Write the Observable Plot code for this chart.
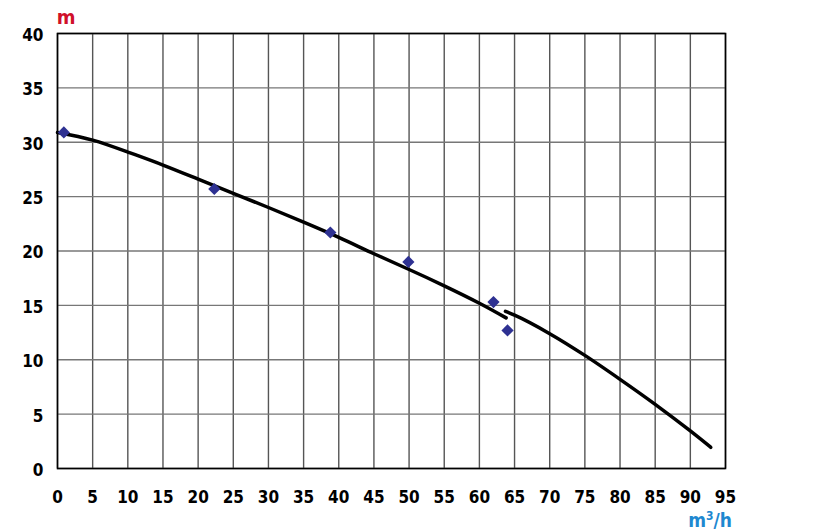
<!DOCTYPE html>
<html><head><meta charset="utf-8">
<script src="https://cdn.jsdelivr.net/npm/d3@7"></script>
<script src="https://cdn.jsdelivr.net/npm/@observablehq/plot@0.6"></script>
<style>body{margin:0;background:#fff}</style>
</head><body><div id="chart"></div>
<script>
const xTicks = [0,5,10,15,20,25,30,35,40,45,50,55,60,65,70,75,80,85,90,95];
const yTicks = [0,5,10,15,20,25,30,35,40];
// curve segment 1
const curve1X = [0,5,10,15,20,25,30,35,40,45,50,55,60,63.8];
const curve1Y = [30.9,30.2,29.1,27.9,26.6,25.3,24.0,22.65,21.25,19.75,18.3,16.8,15.2,13.85];
// curve segment 2
const curve2X = [63.7,65,70,75,80,85,90,92.9];
const curve2Y = [14.45,14.1,12.4,10.4,8.2,5.9,3.45,1.95];
// measured points
const ptsX = [0.9,22.3,38.8,49.9,62.0,64.0];
const ptsY = [30.9,25.7,21.7,19.0,15.3,12.7];

const seg1 = curve1X.map((x,i)=>({x, y: curve1Y[i]}));
const seg2 = curve2X.map((x,i)=>({x, y: curve2Y[i]}));
const pts = ptsX.map((x,i)=>({x, y: ptsY[i]}));

const chart = Plot.plot({
  width: 824, height: 532,
  marginLeft: 57, marginRight: 99, marginTop: 33, marginBottom: 64,
  style: {fontFamily: "'DejaVu Sans Condensed', 'DejaVu Sans', sans-serif", fontStretch: "condensed", fontSize: "17px", fontWeight: "bold", color: "#000", background: "#fff"},
  x: {domain: [0,95], ticks: xTicks, tickSize: 0, tickPadding: 22, label: null},
  y: {domain: [0,40], ticks: yTicks, tickSize: 0, tickPadding: 14, label: null},
  marks: [
    Plot.gridX(xTicks, {stroke: "#555", strokeOpacity: 1, strokeWidth: 1.4}),
    Plot.gridY(yTicks, {stroke: "#777", strokeOpacity: 1, strokeWidth: 1.4}),
    Plot.frame({stroke: "#000", strokeWidth: 1.6}),
    Plot.axisY({ticks: yTicks, tickSize: 0, tickPadding: 14, dy: 2, label: null, fontWeight: "bold"}),
    Plot.axisX({ticks: xTicks, tickSize: 0, tickPadding: 22, label: null, fontWeight: "bold"}),
    Plot.line(seg1, {x: "x", y: "y", curve: "natural", stroke: "#000", strokeWidth: 3.5}),
    Plot.line(seg2, {x: "x", y: "y", curve: "monotone-x", stroke: "#000", strokeWidth: 3.5}),
    Plot.dot(pts, {x: "x", y: "y", symbol: "diamond2", r: 5.5, fill: "#2e3192", stroke: "none"})
  ]
});
const svg = d3.select(chart);
svg.append("text").attr("x", 66).attr("y", 24).attr("text-anchor", "middle")
  .attr("fill", "#d0102a").attr("font-size", 20).attr("font-weight", "bold").text("m");
const u = svg.append("text").attr("x", 710).attr("y", 527).attr("text-anchor", "middle")
  .attr("fill", "#1e88d0").attr("font-size", 19).attr("font-weight", "bold");
u.append("tspan").text("m");
u.append("tspan").attr("dy", -7).attr("font-size", 12).text("3");
u.append("tspan").attr("dy", 7).text("/h");
document.getElementById("chart").appendChild(chart);
</script></body></html>
